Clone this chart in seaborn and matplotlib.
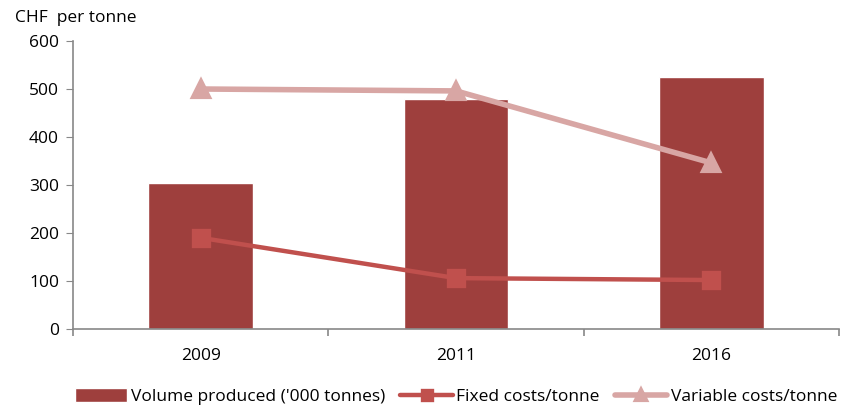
import matplotlib
matplotlib.use("Agg")
import matplotlib.pyplot as plt
import seaborn as sns
import pandas as pd
from matplotlib.ticker import FixedLocator

years = ["2009", "2011", "2016"]
volume = [304, 479, 525]
fixed_costs = [190, 106, 102]
variable_costs = [500, 496, 346]

sns.set_style("white")
plt.rcParams['font.family'] = ['Open Sans', 'DejaVu Sans']
plt.rcParams['text.color'] = 'black'
plt.rcParams['xtick.labelcolor'] = 'black'
plt.rcParams['ytick.labelcolor'] = 'black'

df = pd.DataFrame({"year": years, "volume": volume, "fixed": fixed_costs, "variable": variable_costs})

fig = plt.figure(figsize=(8.56, 4.09), dpi=100)
ax = fig.add_axes([73/856, 1-329/409, (839-73)/856, (329-41)/409])

bar_c = "#9E3F3D"
fix_c = "#C0504D"
var_c = "#D8A6A4"

sns.barplot(data=df, x="year", y="volume", color=bar_c, width=0.41, saturation=1,
            label="Volume produced ('000 tonnes)", ax=ax, zorder=2)
sns.pointplot(data=df, x="year", y="fixed", color=fix_c, markers="s", markersize=12,
              linewidth=3.2, errorbar=None, label="Fixed costs/tonne", ax=ax, zorder=3)
sns.pointplot(data=df, x="year", y="variable", color=var_c, markers="^", markersize=12,
              linewidth=4, errorbar=None, label="Variable costs/tonne", ax=ax, zorder=3)

ax.set_xlim(-0.5, 2.5)
ax.set_ylim(0, 600)
ax.set_yticks(range(0, 601, 100))
ax.set_xlabel("")
ax.set_ylabel("")
for s in ["top", "right"]:
    ax.spines[s].set_visible(False)
for s in ["left", "bottom"]:
    ax.spines[s].set_color("#888888")
    ax.spines[s].set_linewidth(1.2)
fs = 12.5
ax.tick_params(axis="y", which="major", left=True, length=5, color="#888888", labelsize=fs, pad=5,
               labelcolor="black")
ax.tick_params(axis="x", which="major", bottom=False, labelsize=fs, pad=10, labelcolor="black")
ax.xaxis.set_minor_locator(FixedLocator([-0.5, 0.5, 1.5, 2.5]))
ax.tick_params(axis="x", which="minor", bottom=True, length=5, color="#888888", width=1.2)

fig.text(15/856, 1-18/409, "CHF  per tonne", fontsize=fs, va="center", ha="left", color="black")

handles, labels = ax.get_legend_handles_labels()
order = [labels.index("Volume produced ('000 tonnes)"), labels.index("Fixed costs/tonne"),
         labels.index("Variable costs/tonne")]
handles = [handles[i] for i in order]
labels = [labels[i] for i in order]
leg = ax.legend(handles, labels, loc="center", bbox_to_anchor=(0.5, -0.235), ncol=3, frameon=False,
                fontsize=fs, handlelength=3.0, handleheight=0.9, handletextpad=0.2,
                columnspacing=0.9, markerscale=0.6, labelcolor="black")

fig.savefig("out.png", dpi=100)
